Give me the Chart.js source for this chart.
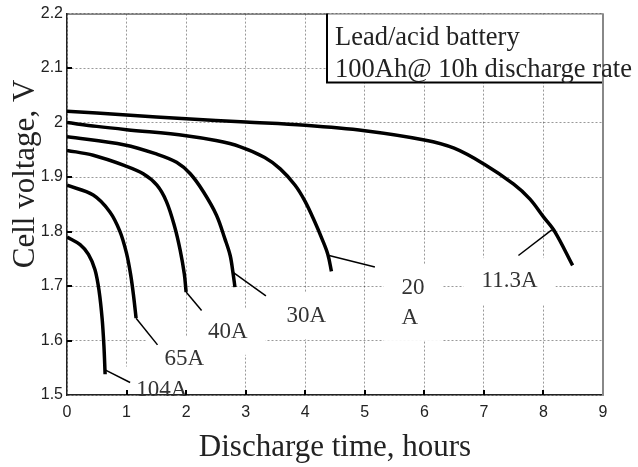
<!DOCTYPE html>
<html>
<head>
<meta charset="utf-8">
<script src="https://cdn.jsdelivr.net/npm/chart.js@4.4.0/dist/chart.umd.min.js"></script>
<style>
  html, body { margin: 0; padding: 0; background: #fff; }
  #wrap { width: 638px; height: 467px; }
</style>
</head>
<body>
<div id="wrap"><canvas id="chart" width="638" height="467"></canvas></div>
<script>
// discharge curves: time (hours) and cell voltage (V) for each current
var t113 = [0, 1, 2, 3, 4, 5, 6, 6.5, 7, 7.5, 7.77, 8.0, 8.19, 8.49];
var v113 = [2.021, 2.014, 2.007, 2.001, 1.995, 1.985, 1.968, 1.953, 1.924, 1.887, 1.86, 1.827, 1.80, 1.738];
var t20 = [0, 0.5, 1, 2, 2.5, 2.9, 3.32, 3.58, 3.83, 4.0, 4.16, 4.28, 4.38, 4.44];
var v20 = [2.0, 1.993, 1.987, 1.976, 1.967, 1.956, 1.936, 1.915, 1.885, 1.855, 1.818, 1.787, 1.758, 1.727];
var t30 = [0, 0.97, 1.51, 1.84, 2.07, 2.29, 2.51, 2.65, 2.74, 2.79, 2.82];
var v30 = [1.974, 1.959, 1.942, 1.927, 1.906, 1.873, 1.83, 1.787, 1.756, 1.722, 1.698];
var t40 = [0, 0.44, 0.97, 1.28, 1.51, 1.67, 1.81, 1.9, 1.97, 2.0];
var v40 = [1.949, 1.94, 1.921, 1.906, 1.885, 1.855, 1.808, 1.766, 1.722, 1.689];
var t65 = [0, 0.44, 0.72, 0.89, 1.0, 1.07, 1.12, 1.16];
var v65 = [1.885, 1.867, 1.836, 1.80, 1.76, 1.72, 1.68, 1.641];
var t104 = [0, 0.22, 0.36, 0.47, 0.54, 0.59, 0.62, 0.64];
var v104 = [1.79, 1.776, 1.758, 1.73, 1.69, 1.64, 1.59, 1.538];

// curve labels and their leader lines
var labelText = ["104A", "65A", "40A", "30A", "20\nA", "11.3A"];
var labelX = [1.59, 1.97, 2.70, 4.02, 5.81, 7.43];
var labelY = [1.51, 1.566, 1.616, 1.645, 1.669, 1.709];
var leaderX = [[0.64, 1.06], [1.16, 1.52], [2.0, 2.26], [2.79, 3.34], [4.40, 5.17], [7.58, 8.14]];
var leaderY = [[1.546, 1.523], [1.641, 1.592], [1.689, 1.655], [1.725, 1.682], [1.756, 1.735], [1.756, 1.803]];

var xMin = 0, xMax = 9, xStep = 1;
var yMin = 1.5, yMax = 2.2, yStep = 0.1;
var noteLines = ["Lead/acid battery", "100Ah@ 10h discharge rate"];

function pts(xs, ys) {
  return xs.map(function (x, i) { return { x: x, y: ys[i] }; });
}

var curves = [[t113, v113], [t20, v20], [t30, v30], [t40, v40], [t65, v65], [t104, v104]];
var datasets = curves.map(function (c) {
  return {
    data: pts(c[0], c[1]),
    showLine: true,
    borderColor: "#000",
    borderWidth: 3.5,
    pointRadius: 0,
    tension: 0.35,
    borderCapStyle: "butt",
    borderJoinStyle: "round",
  };
});
leaderX.forEach(function (lx, i) {
  datasets.push({
    data: pts(lx, leaderY[i]),
    showLine: true,
    borderColor: "#000",
    borderWidth: 1.5,
    pointRadius: 0,
  });
});

var serif = '"Liberation Serif", "Times New Roman", serif';

var annotate = {
  id: "annotate",
  beforeDatasetsDraw: function (chart) {
    // white patches behind the curve labels
    var ctx = chart.ctx, xs = chart.scales.x, ys = chart.scales.y, a = chart.chartArea;
    ctx.save();
    ctx.beginPath();
    ctx.rect(a.left + 1, a.top + 1, a.right - a.left - 2, a.bottom - a.top - 2);
    ctx.clip();
    ctx.font = "23px " + serif;
    ctx.fillStyle = "#fff";
    labelText.forEach(function (txt, i) {
      var lines = txt.split("\n");
      var w = Math.max.apply(null, lines.map(function (l) { return ctx.measureText(l).width; }));
      var h = lines.length * 30;
      var cx = xs.getPixelForValue(labelX[i]), cy = ys.getPixelForValue(labelY[i]);
      ctx.fillRect(cx - w / 2 - 18, cy - h / 2 - 8, w + 36, h + 16);
    });
    ctx.restore();
  },
  afterDraw: function (chart) {
    var ctx = chart.ctx, xs = chart.scales.x, ys = chart.scales.y, a = chart.chartArea;
    ctx.save();

    // inward tick marks
    ctx.strokeStyle = "#000";
    ctx.lineWidth = 2;
    ctx.beginPath();
    for (var v = yMin + yStep; v < yMax - 1e-9; v += yStep) {
      var py = Math.round(ys.getPixelForValue(v));
      ctx.moveTo(a.left, py); ctx.lineTo(a.left + 5, py);
    }
    for (var u = xMin + xStep; u < xMax; u += xStep) {
      var px = Math.round(xs.getPixelForValue(u));
      ctx.moveTo(px, a.bottom); ctx.lineTo(px, a.bottom - 5);
    }
    ctx.stroke();

    // top frame line
    ctx.lineWidth = 1;
    ctx.strokeStyle = "#333";
    ctx.beginPath();
    ctx.moveTo(a.left, a.top + 0.5); ctx.lineTo(a.right, a.top + 0.5);
    ctx.stroke();

    // note box top right
    var bx = a.right - 276, by = a.top, bw = 276, bh = 69;
    ctx.fillStyle = "#fff";
    ctx.fillRect(bx, by + 1, bw, bh - 1);
    ctx.strokeStyle = "#000";
    ctx.lineWidth = 2;
    ctx.beginPath();
    ctx.moveTo(bx, by); ctx.lineTo(bx, by + bh); ctx.lineTo(a.right, by + bh);
    ctx.stroke();
    ctx.strokeStyle = "#888";
    ctx.lineWidth = 2;
    ctx.beginPath();
    ctx.moveTo(a.right, a.top); ctx.lineTo(a.right, a.bottom);
    ctx.stroke();

    ctx.fillStyle = "#222";
    ctx.font = "26.5px " + serif;
    ctx.textAlign = "left";
    ctx.textBaseline = "alphabetic";
    ctx.fillText(noteLines[0], bx + 8, by + 31);
    ctx.fillText(noteLines[1], bx + 8, by + 63);

    // curve labels
    ctx.font = "23px " + serif;
    ctx.fillStyle = "#333";
    ctx.textBaseline = "middle";
    labelText.forEach(function (txt, i) {
      var lines = txt.split("\n");
      var w = Math.max.apply(null, lines.map(function (l) { return ctx.measureText(l).width; }));
      var cx = xs.getPixelForValue(labelX[i]), cy = ys.getPixelForValue(labelY[i]);
      var y0 = cy - (lines.length - 1) * 15;
      lines.forEach(function (l, k) {
        ctx.fillText(l, cx - w / 2, y0 + k * 30);
      });
    });

    // y axis title
    ctx.translate(26, 174);
    ctx.rotate(-Math.PI / 2);
    ctx.font = "31px " + serif;
    ctx.fillStyle = "#222";
    ctx.textAlign = "center";
    ctx.fillText("Cell voltage, V", 0, 0);
    ctx.restore();
  },
};

new Chart(document.getElementById("chart").getContext("2d"), {
  type: "scatter",
  data: { datasets: datasets },
  options: {
    responsive: false,
    animation: false,
    layout: { padding: { left: 0, right: 35, top: 12, bottom: 0 } },
    plugins: { legend: { display: false }, tooltip: { enabled: false } },
    scales: {
      x: {
        type: "linear",
        min: xMin,
        max: xMax,
        afterFit: function (s) { s.height = 72; },
        ticks: { stepSize: xStep, padding: 8, color: "#222", font: { family: '"Liberation Sans", Arial, sans-serif', size: 16 } },
        grid: { color: "rgba(0,0,0,0.4)", lineWidth: 1, drawTicks: false },
        border: { display: true, color: "#222", width: 1.5, dash: [2, 2] },
        title: {
          display: true,
          text: "Discharge time, hours",
          color: "#222",
          padding: { top: 0, bottom: 1 },
          font: { family: serif, size: 31 },
        },
      },
      y: {
        type: "linear",
        min: yMin,
        max: yMax,
        afterFit: function (s) { s.width = 67; },
        ticks: {
          stepSize: yStep,
          padding: 4,
          color: "#222",
          font: { family: '"Liberation Sans", Arial, sans-serif', size: 16 },
          callback: function (v) { return String(+v.toFixed(1)); },
        },
        grid: { color: "rgba(0,0,0,0.4)", lineWidth: 1, drawTicks: false },
        border: { display: true, color: "#222", width: 1.5, dash: [2, 2] },
      },
    },
  },
  plugins: [annotate],
});
</script>
</body>
</html>
